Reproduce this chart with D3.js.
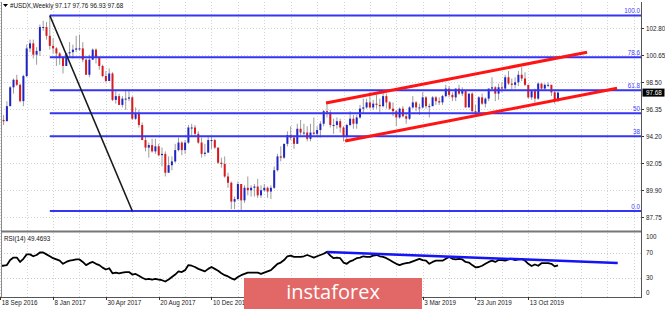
<!DOCTYPE html>
<html>
<head>
<meta charset="utf-8">
<script src="https://cdn.jsdelivr.net/npm/d3@7/dist/d3.min.js"></script>
<style>
  body { margin: 0; background: #fff; }
  svg { display: block; font-family: "Liberation Sans", Arial, sans-serif; }
</style>
</head>
<body>
<script>
// weekly USDX candles, 18 Sep 2016 .. 15 Dec 2019
var opens = [
  96.1,95.5,95.4,96.6,98.1,98.7,98.3,97.0,99.0,101.2,
  101.6,100.7,101.0,102.9,102.9,102.2,101.4,101.2,100.8,100.5,
  99.8,100.8,100.9,101.1,101.2,101.2,100.3,99.1,100.3,101.1,
  100.5,99.8,99.0,98.6,99.2,97.1,97.4,96.7,97.2,97.2,
  97.3,95.6,96.0,95.1,93.9,93.3,93.5,93.0,93.4,92.7,
  92.8,91.3,91.9,92.2,93.1,93.7,93.1,93.7,94.9,94.9,
  94.4,93.7,92.8,92.9,93.9,93.9,93.3,92.1,92.0,91.0,
  90.5,89.0,89.2,90.4,89.1,90.1,89.9,90.1,90.2,89.5,
  89.9,90.1,89.8,90.1,91.5,92.6,92.5,93.6,94.3,94.1,
  93.6,94.8,94.5,94.5,94.0,94.5,94.4,94.7,95.2,96.2,
  96.1,95.1,95.1,95.4,94.9,94.2,95.1,95.6,95.2,95.7,
  96.4,96.5,96.9,96.5,96.8,96.7,96.6,97.4,96.9,96.4,
  96.2,95.7,96.4,95.8,95.6,96.5,96.9,96.5,96.5,97.3,
  96.6,96.6,97.3,97.0,96.9,97.4,98.0,97.5,97.3,98.0,
  97.6,97.8,96.5,97.6,96.2,96.1,97.3,96.8,97.2,98.0,
  98.1,97.6,98.1,98.0,98.9,98.4,98.3,98.5,99.1,98.8,
  98.3,97.3,97.8,97.2,98.4,98.0,98.3,98.3,97.7,97.17
];
var highs = [
  96.2,95.9,97.0,98.2,98.8,99.1,98.4,99.1,101.5,101.9,
  101.9,101.3,103.1,103.4,103.3,103.8,102.0,101.3,100.9,100.6,
  100.8,101.7,101.5,102.2,102.3,101.7,100.4,100.7,101.2,101.2,
  100.5,99.9,99.4,99.6,99.3,97.8,97.6,97.4,97.9,97.9,
  97.4,96.5,96.3,95.3,94.2,93.7,94.0,94.0,93.6,93.3,
  93.0,92.6,92.6,93.6,94.1,93.8,93.9,95.1,95.2,95.1,
  94.6,94.1,93.6,94.2,94.2,94.0,93.3,92.5,92.6,91.3,
  90.6,89.4,90.6,90.4,90.3,91.0,90.3,90.4,90.8,90.3,
  90.4,90.2,90.3,91.8,92.8,93.4,93.6,94.6,95.0,94.3,
  95.2,95.5,95.2,95.0,95.2,95.7,95.0,95.4,96.3,97.0,
  96.3,95.6,95.7,95.6,95.0,95.2,96.2,95.9,95.9,96.7,
  97.2,97.2,97.7,97.1,97.5,97.2,97.7,97.6,97.0,96.9,
  96.3,96.5,96.6,96.0,96.6,97.4,97.0,96.8,97.7,97.4,
  96.8,97.4,97.4,97.3,97.5,98.3,98.2,97.7,98.0,98.3,
  98.1,97.8,97.6,97.7,96.7,97.4,97.6,97.3,98.0,98.9,
  98.2,98.4,98.5,99.1,99.4,98.8,98.9,99.4,99.7,99.3,
  98.3,97.9,98.0,98.5,98.4,98.4,98.5,98.3,97.9,97.76
];
var lows = [
  95.2,95.1,95.4,96.6,97.6,98.2,96.9,96.6,98.9,100.9,
  100.4,99.9,100.6,102.6,101.9,101.1,100.8,99.8,99.9,99.2,
  99.8,100.5,100.4,100.9,101.0,100.1,99.1,98.9,100.3,100.0,
  99.5,98.9,98.5,98.6,97.0,96.8,96.7,96.5,96.3,97.0,
  95.5,95.5,94.9,93.9,93.0,92.5,92.9,92.8,92.6,91.8,
  91.0,91.3,91.5,92.1,93.0,92.7,92.8,93.6,94.2,94.2,
  93.6,92.5,92.6,92.9,93.2,93.2,92.0,91.7,90.9,90.1,
  88.4,88.4,89.1,88.25,88.9,89.5,89.4,89.4,89.3,89.3,
  89.8,89.3,89.2,90.0,91.4,92.2,92.4,93.4,93.9,93.2,
  93.6,94.3,94.3,93.8,93.8,94.3,94.2,94.1,95.0,95.7,
  94.9,94.4,94.8,94.5,93.8,93.9,95.0,94.8,94.8,95.6,
  96.0,96.4,96.4,96.3,96.4,96.1,96.5,96.4,96.3,95.8,
  95.0,95.6,95.7,95.2,95.5,96.4,96.2,95.9,96.4,96.4,
  95.7,96.6,96.7,96.7,96.7,97.3,97.3,97.0,97.0,97.5,
  97.4,96.5,96.5,96.1,95.8,96.1,96.7,96.5,97.0,97.9,
  97.0,97.1,97.7,97.9,98.3,97.9,98.0,98.2,98.6,98.2,
  97.2,97.1,96.9,97.1,97.9,97.8,98.1,97.4,96.8,96.93
];
var closes = [
  95.5,95.4,96.6,98.1,98.7,98.3,97.0,99.0,101.2,101.6,
  100.7,101.0,102.9,102.9,102.2,101.4,101.2,100.8,100.5,99.8,
  100.8,100.9,101.1,101.2,101.2,100.3,99.1,100.3,101.1,100.5,
  99.8,99.0,98.6,99.2,97.1,97.4,96.7,97.2,97.2,97.3,
  95.6,96.0,95.1,93.9,93.3,93.5,93.0,93.4,92.7,92.8,
  91.3,91.9,92.2,93.1,93.7,93.1,93.7,94.9,94.9,94.4,
  93.7,92.8,92.9,93.9,93.9,93.3,92.1,92.0,91.0,90.5,
  89.0,89.2,90.4,89.1,90.1,89.9,90.1,90.2,89.5,89.9,
  90.1,89.8,90.1,91.5,92.6,92.5,93.6,94.3,94.1,93.6,
  94.8,94.5,94.5,94.0,94.5,94.4,94.7,95.2,96.2,96.1,
  95.1,95.1,95.4,94.9,94.2,95.1,95.6,95.2,95.7,96.4,
  96.5,96.9,96.5,96.8,96.7,96.6,97.4,96.9,96.4,96.2,
  95.7,96.4,95.8,95.6,96.5,96.9,96.5,96.5,97.3,96.6,
  96.6,97.3,97.0,96.9,97.4,98.0,97.5,97.3,98.0,97.6,
  97.8,96.5,97.6,96.2,96.1,97.3,96.8,97.2,98.0,98.1,
  97.6,98.1,98.0,98.9,98.4,98.3,98.5,99.1,98.8,98.3,
  97.3,97.8,97.2,98.4,98.0,98.3,98.3,97.7,97.17,97.68
];
var rsi = [
  49,49,50,58,62,62,55,60,67,67,
  64,66,70,70,67,64,61,59,57,52,
  55,57,58,59,59,55,50,53,55,52,
  50,46,43,45,37,38,37,38,39,39,
  35,36,33,30,27.5,28,27,28,27,26,
  24,27,31,35,40,39,42,50,49,47,
  44,42,40,44,47,44,41,37,34,32,
  29,27,31,34,36,38,38,38,38,36,
  38,40,42,47,52,54,58,64,65,63,
  63,63,64,66,64,62,64,66,68,71,
  65,61,62,61,54,52,56,58,61,62,
  64,63,63,65,66,64,63,61,58,55,
  52,50,52,53,54,56,58,60,58,57,
  52,55,57,57,57,60,63,60,59,60,
  59,55,54,50,46.5,47,49,52,55,57,
  55,58,58,57,59,60,58,59,60,57,
  52,48.6,51,49,53,53,53,52,48,49.47
];

var priceTicks = [87.75, 89.90, 92.05, 94.20, 96.35, 98.50, 100.65, 102.80];
var rsiTicks = [0, 30, 70, 100];
var dateTickBars = [0, 16, 32, 48, 64, 80, 96, 112, 128, 144, 160];
var dateLabels = ["18 Sep 2016", "8 Jan 2017", "30 Apr 2017", "20 Aug 2017", "10 Dec 2017",
                  "1 Apr 2018", "22 Jul 2018", "11 Nov 2018", "3 Mar 2019", "23 Jun 2019", "13 Oct 2019"];

// fibonacci retracement between the Jan 2017 high and the Feb 2018 low
var fibHigh = 103.82, fibLow = 88.25, fibStartBar = 15;
var fibLevels = [0, 38.2, 50, 61.8, 78.6, 100];
var fibLabels = ["0.0", "38", "50", "61.8", "78.6", "100.0"];

// drawn trendlines as [bar, value] pairs
var downLine = [[15, 103.82], [40, 88.25]];
var channelTop = [[98.7, 96.85], [177.8, 100.89]];
var channelBottom = [[104.5, 93.83], [186.9, 98.02]];
var rsiLine = [[99, 70.8], [187.1, 53.3]];

var lastPrice = 97.68;

var W = 665, H = 309;
var plotL = 1, plotR = 641;
var mainTop = 2, mainBot = 231, rsiTop = 233, rsiBot = 297;

var x = d3.scaleLinear().domain([0, 169]).range([0.3, 0.3 + 3.3 * 169]);
var y = d3.scaleLinear().domain([87.75, 102.80]).range([217.3, 28.3]);
var yr = d3.scaleLinear().domain([0, 100]).range([296.6, 233.6]);

var svg = d3.select("body").append("svg")
    .attr("width", W)
    .attr("height", H);

svg.append("rect").attr("width", W).attr("height", H).attr("fill", "#fff");

var defs = svg.append("defs");
defs.append("clipPath").attr("id", "clipMain")
  .append("rect").attr("x", plotL).attr("y", mainTop).attr("width", plotR - plotL).attr("height", mainBot - mainTop);
defs.append("clipPath").attr("id", "clipRsi")
  .append("rect").attr("x", plotL).attr("y", rsiTop).attr("width", plotR - plotL).attr("height", rsiBot - rsiTop);

// grid
var gridCol = "#d4d4d4";
var vBars = d3.range(0, 200, 8);
var grid = svg.append("g");
grid.selectAll(".gh").data(priceTicks).enter().append("line")
    .attr("x1", plotL).attr("x2", plotR)
    .attr("y1", function(d) { return Math.round(y(d)) + 0.5; })
    .attr("y2", function(d) { return Math.round(y(d)) + 0.5; })
    .attr("stroke", gridCol).attr("stroke-dasharray", "1,2");
grid.selectAll(".gv").data(vBars.filter(function(b) { return x(b) < plotR; })).enter().append("line")
    .attr("x1", function(d) { return Math.round(x(d)) + 0.5; })
    .attr("x2", function(d) { return Math.round(x(d)) + 0.5; })
    .attr("y1", mainTop).attr("y2", mainBot)
    .attr("stroke", gridCol).attr("stroke-dasharray", "1,2");
grid.selectAll(".gv2").data(vBars.filter(function(b) { return x(b) < plotR; })).enter().append("line")
    .attr("x1", function(d) { return Math.round(x(d)) + 0.5; })
    .attr("x2", function(d) { return Math.round(x(d)) + 0.5; })
    .attr("y1", rsiTop).attr("y2", rsiBot)
    .attr("stroke", gridCol).attr("stroke-dasharray", "1,2");
grid.selectAll(".gr").data([30, 70]).enter().append("line")
    .attr("x1", plotL).attr("x2", plotR)
    .attr("y1", function(d) { return Math.round(yr(d)) + 0.5; })
    .attr("y2", function(d) { return Math.round(yr(d)) + 0.5; })
    .attr("stroke", "#c8c8c8").attr("stroke-dasharray", "1,2");

// candles
var main = svg.append("g").attr("clip-path", "url(#clipMain)");
var bars = d3.range(closes.length);

main.selectAll(".wick").data(bars).enter().append("line")
    .attr("x1", function(i) { return x(i); })
    .attr("x2", function(i) { return x(i); })
    .attr("y1", function(i) { return y(highs[i]); })
    .attr("y2", function(i) { return y(lows[i]); })
    .attr("stroke", "#9c9c9c").attr("stroke-width", 1);

main.selectAll(".body").data(bars).enter().append("rect")
    .attr("x", function(i) { return x(i) - 1; })
    .attr("width", 2)
    .attr("y", function(i) { return y(Math.max(opens[i], closes[i])); })
    .attr("height", function(i) { return Math.max(1, Math.abs(y(opens[i]) - y(closes[i]))); })
    .attr("fill", function(i) { return closes[i] >= opens[i] ? "#1f25c4" : "#d8191e"; });

// fibonacci levels
var fibX1 = x(fibStartBar);
main.selectAll(".fib").data(fibLevels).enter().append("line")
    .attr("x1", fibX1).attr("x2", plotR)
    .attr("y1", function(d) { return y(fibLow + (fibHigh - fibLow) * d / 100); })
    .attr("y2", function(d) { return y(fibLow + (fibHigh - fibLow) * d / 100); })
    .attr("stroke", "#3535f2").attr("stroke-width", 2);
svg.selectAll(".fibl").data(fibLevels).enter().append("text")
    .attr("x", plotR - 1)
    .attr("y", function(d) { return y(fibLow + (fibHigh - fibLow) * d / 100) - 2; })
    .attr("text-anchor", "end")
    .attr("font-size", 6.3)
    .attr("fill", "#4040ff")
    .text(function(d, k) { return fibLabels[k]; });

// trendlines
var seg = d3.line().x(function(d) { return x(d[0]); }).y(function(d) { return y(d[1]); });
main.append("path").attr("d", seg(downLine)).attr("fill", "none")
    .attr("stroke", "#1a1a1a").attr("stroke-width", 1.6);
main.append("path").attr("d", seg(channelTop)).attr("fill", "none")
    .attr("stroke", "#ff1414").attr("stroke-width", 3);
main.append("path").attr("d", seg(channelBottom)).attr("fill", "none")
    .attr("stroke", "#ff1414").attr("stroke-width", 3);

// RSI panel
var rsiG = svg.append("g").attr("clip-path", "url(#clipRsi)");
rsiG.append("path")
    .datum(bars)
    .attr("d", d3.line().x(function(i) { return x(i); }).y(function(i) { return yr(rsi[i]); }))
    .attr("fill", "none").attr("stroke", "#000").attr("stroke-width", 1.8)
    .attr("stroke-linejoin", "round");
rsiG.append("path")
    .attr("d", d3.line().x(function(d) { return x(d[0]); }).y(function(d) { return yr(d[1]); })(rsiLine))
    .attr("fill", "none").attr("stroke", "#1414f5").attr("stroke-width", 2.5);

// frame
var frameCol = "#8a8a8a";
svg.append("line").attr("x1", plotL + 0.5).attr("x2", plotL + 0.5).attr("y1", mainTop).attr("y2", rsiBot)
    .attr("stroke", frameCol);
svg.append("line").attr("x1", plotR + 0.5).attr("x2", plotR + 0.5).attr("y1", mainTop).attr("y2", rsiBot + 1)
    .attr("stroke", "#555");
svg.append("line").attr("x1", plotL).attr("x2", plotR).attr("y1", mainBot + 0.5).attr("y2", mainBot + 0.5)
    .attr("stroke", "#777").attr("stroke-width", 2);
svg.append("line").attr("x1", plotL).attr("x2", plotR + 1).attr("y1", rsiBot + 0.5).attr("y2", rsiBot + 0.5)
    .attr("stroke", "#555");

// price axis
var ax = svg.append("g").attr("font-size", 6.3).attr("fill", "#222");
ax.selectAll(".pt").data(priceTicks).enter().append("line")
    .attr("x1", plotR + 1).attr("x2", plotR + 3)
    .attr("y1", function(d) { return Math.round(y(d)) + 0.5; })
    .attr("y2", function(d) { return Math.round(y(d)) + 0.5; })
    .attr("stroke", "#333");
ax.selectAll(".pl").data(priceTicks).enter().append("text")
    .attr("x", plotR + 5)
    .attr("y", function(d) { return y(d) + 2.2; })
    .text(function(d) { return d.toFixed(2); });

// current price tag
svg.append("rect").attr("x", plotR + 1.5).attr("y", y(lastPrice) - 4).attr("width", 22).attr("height", 8)
    .attr("fill", "#000");
svg.append("text").attr("x", plotR + 5).attr("y", y(lastPrice) + 2.2)
    .attr("font-size", 6.3).attr("fill", "#fff").text(lastPrice.toFixed(2));

// RSI axis
ax.selectAll(".rl").data(rsiTicks).enter().append("text")
    .attr("x", plotR + 5)
    .attr("y", function(d) { return yr(d) + 2.2 + (d === 100 ? 3 : d === 0 ? -3.5 : 0); })
    .text(function(d) { return d; });

// time axis
ax.selectAll(".dt").data(dateTickBars).enter().append("line")
    .attr("x1", function(d) { return Math.round(x(d)) + 0.5; })
    .attr("x2", function(d) { return Math.round(x(d)) + 0.5; })
    .attr("y1", rsiBot).attr("y2", rsiBot + 3)
    .attr("stroke", "#333");
ax.selectAll(".dl").data(dateTickBars).enter().append("text")
    .attr("x", function(d) { return x(d) + 1.5; })
    .attr("y", 305)
    .text(function(d, k) { return dateLabels[k]; });

// titles
svg.append("path").attr("d", "M3,4 L8,4 L5.5,7 Z").attr("fill", "#000");
svg.append("text").attr("x", 10).attr("y", 8).attr("font-size", 6.3).attr("fill", "#111")
    .text("#USDX,Weekly  97.17 97.76 96.93 97.68");
svg.append("text").attr("x", 4).attr("y", 241).attr("font-size", 6.3).attr("fill", "#111")
    .text("RSI(14) 49.4693");

// watermark (opaque, it hides the time labels underneath as in the picture)
svg.append("rect").attr("x", 244).attr("y", 278).attr("width", 178).attr("height", 31)
    .attr("fill", "#e26868");
svg.append("text").attr("x", 333).attr("y", 299).attr("text-anchor", "middle")
    .attr("font-family", "'Open Sans', sans-serif").attr("font-size", 20).attr("fill", "#fff")
    .text("instaforex");
</script>
</body>
</html>
